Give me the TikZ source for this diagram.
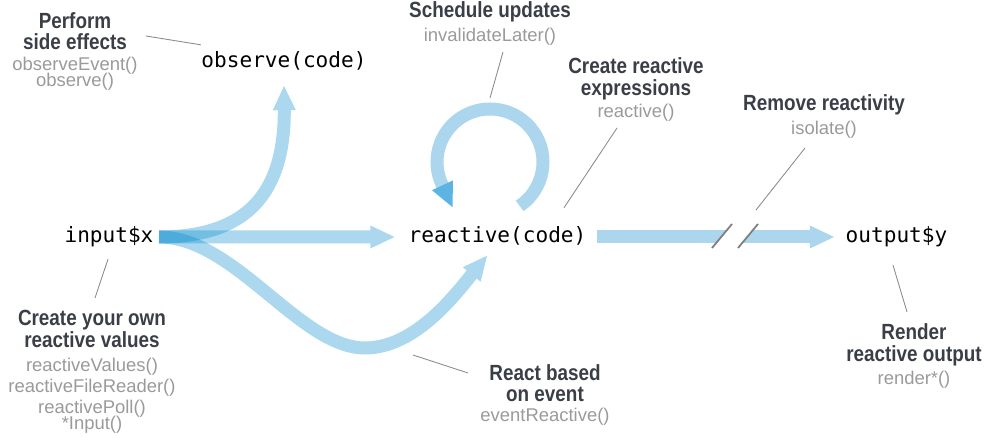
\documentclass[tikz,border=0pt]{standalone}
\usepackage{fontspec}
\usepackage{xcolor}
\usetikzlibrary{arrows.meta}
\newfontfamily\headfont[FakeStretch=0.86]{Liberation Sans}
\newfontfamily\subfont{Liberation Sans}
\newfontfamily\codefont{DejaVu Sans Mono}
\definecolor{headgray}{HTML}{3A3E46}
\definecolor{subgray}{HTML}{9A9A9A}
\definecolor{linegray}{HTML}{8C8C8C}
\definecolor{cutgray}{HTML}{7E7E7E}
\definecolor{flowblue}{RGB}{0,136,204}
\definecolor{bandblue}{RGB}{171,214,238}
\definecolor{tipblue}{RGB}{92,180,226}
\tikzset{%
    codebox/.style={inner sep=3pt,text height=9pt,text depth=3pt,font=\codefont\fontsize{12}{14}\selectfont},
    headtxt/.style={inner sep=0pt,align=center,text=headgray,font=\headfont\bfseries\fontsize{12.5}{12.3}\selectfont},
    subtxt/.style={inner sep=0pt,align=center,text=subgray,font=\subfont\fontsize{10.5}{12}\selectfont},
    flow/.style={line width=0.26cm,draw=flowblue,-{Triangle[width=0.42cm,length=0.5cm]}},
    faded/.style={transparency group,opacity=0.33},
    band/.style={line width=0.26cm,draw=bandblue,-{Triangle[width=0.42cm,length=0.5cm]}},
    callout/.style={draw=linegray,line width=0.5pt},
    breakmark/.style={draw=cutgray,line width=1pt},
}

\begin{document}
\begin{tikzpicture}[x=0.02cm,y=0.02cm]
        \useasboundingbox (0,0) rectangle (987,438);

        % code nodes
        \node [codebox] (input) at (109,201) {input\$x};
        \node [codebox] (reactive) at (497.5,201) {reactive(code)};
        \node [codebox] (observe) at (284,376) {observe(code)};
        \node [codebox] (output) at (896.5,201) {output\$y};

        \coordinate (selfloop) at (490,276);
        \coordinate (reactin) at ([shift={(-10,-2)}]reactive.south);
        \coordinate (brk) at (735,201);

        % flows out of input$x
        \begin{scope}[faded]
            \draw [flow,shorten >=4.4pt] (input.east) -- (reactive.west);
        \end{scope}
        \begin{scope}[faded]
            \draw [flow,shorten >=4pt] (input.east) .. controls (250,201) and (285,248) .. (observe.south);
        \end{scope}
        \begin{scope}[faded]
            \draw [flow] (input.east) .. controls (235,201) and (300,90) .. (365,90)
                .. controls (415,90) and (455,143) .. (reactin);
        \end{scope}

        % self loop
        \draw [band,-{Triangle[width=0.42cm,length=0.5cm,color=tipblue]}]
            ([shift={(-56:53)}]selfloop) arc[start angle=-56,end angle=205,radius=53] -- ++(11,-23.6);

        % to output, with isolate break
        \draw [band,shorten <=3pt,shorten >=3pt] (reactive.east) -- (output.west);
        \fill [white] ([shift={(-23,-11)}]brk) -- ([shift={(3,-11)}]brk) -- ([shift={(23,13)}]brk) -- ([shift={(-3,13)}]brk) -- cycle;
        \draw [breakmark] ([shift={(-23,-11)}]brk) -- ([shift={(-3,13)}]brk);
        \draw [breakmark] ([shift={(3,-11)}]brk) -- ([shift={(23,13)}]brk);

        % labels
        \node [headtxt] (perform) at (75,407) {Perform\\side effects};
        \node [subtxt] (performfn) at (75,364) {observeEvent()\\[-3pt]observe()};
        \node [headtxt] (schedule) at (490,426) {Schedule updates};
        \node [subtxt] (schedulefn) at (490,401) {invalidateLater()};
        \node [headtxt] (express) at (636,359) {Create reactive\\expressions};
        \node [subtxt] (expressfn) at (636,325) {reactive()};
        \node [headtxt] (isolating) at (824,333) {Remove reactivity};
        \node [subtxt] (isolatefn) at (824,308) {isolate()};
        \node [headtxt] (render) at (914,93) {Render\\reactive output};
        \node [subtxt] (renderfn) at (914,58) {render*()};
        \node [headtxt] (event) at (545,55) {React based\\on event};
        \node [subtxt] (eventfn) at (545,21) {eventReactive()};
        \node [headtxt] (ownvals) at (92,109) {Create your own\\reactive values};
        \node [subtxt] (ownfn) at (92,42) {reactiveValues()\\reactiveFileReader()\\reactivePoll()\\[-3pt]*Input()};

        % callouts
        \coordinate (performtip) at (146,402);
        \coordinate (schedtip) at (503,386);
        \coordinate (exprtip) at (617,310);
        \coordinate (isotip) at (805,290);
        \coordinate (rendtip) at (907,126);
        \coordinate (evtcurve) at (413,83);
        \coordinate (evttip) at (468,65);
        \coordinate (owntip) at (95,140);
        \draw [callout] (performtip) -- ([shift={(5,1)}]observe.north west);
        \draw [callout] (schedtip) -- ([shift={(0,64)}]selfloop);
        \draw [callout] (exprtip) -- ([shift={(-28,13)}]reactive.north east);
        \draw [callout] (isotip) -- ([shift={(21,27)}]brk);
        \draw [callout] ([shift={(-3.5,-12)}]output.south) -- (rendtip);
        \draw [callout] (evtcurve) -- (evttip);
        \draw [callout] ([shift={(-1,-6)}]input.south) -- (owntip);
\end{tikzpicture}
\end{document}
